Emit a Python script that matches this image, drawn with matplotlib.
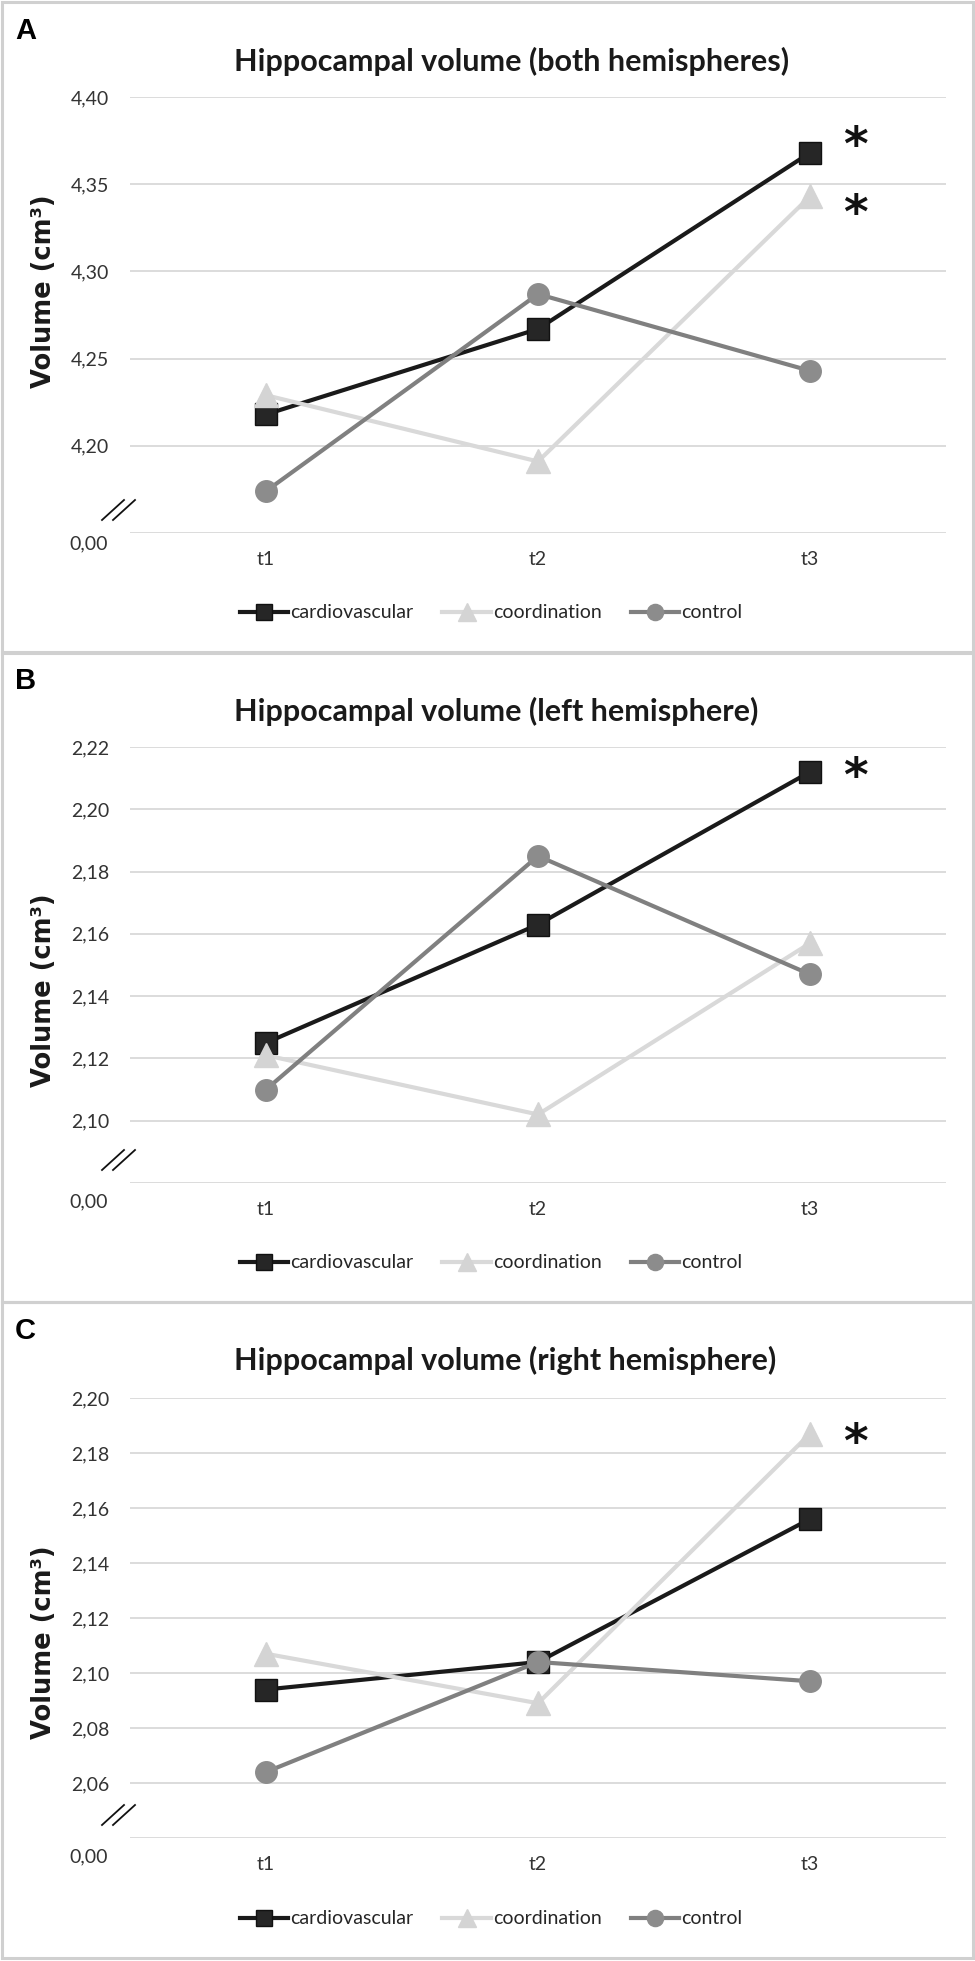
import matplotlib
matplotlib.use("Agg")
import matplotlib.pyplot as plt
from matplotlib.patches import Rectangle
from matplotlib.lines import Line2D

# time points
times = ["t1", "t2", "t3"]
groups = ["cardiovascular", "coordination", "control"]

# panel A: both hemispheres
both_cardio = [4.218, 4.267, 4.368]
both_coord = [4.229, 4.191, 4.343]
both_control = [4.174, 4.287, 4.243]

# panel B: left hemisphere
left_cardio = [2.125, 2.163, 2.212]
left_coord = [2.121, 2.102, 2.157]
left_control = [2.110, 2.185, 2.147]

# panel C: right hemisphere
right_cardio = [2.094, 2.104, 2.156]
right_coord = [2.107, 2.089, 2.187]
right_control = [2.064, 2.104, 2.097]

# y ticks (the lowest one is shown as "0,00" after the axis break)
both_ticks = [4.15, 4.20, 4.25, 4.30, 4.35, 4.40]
left_ticks = [2.08, 2.10, 2.12, 2.14, 2.16, 2.18, 2.20, 2.22]
right_ticks = [2.04, 2.06, 2.08, 2.10, 2.12, 2.14, 2.16, 2.18, 2.20]

# significance asterisks (y position at t3)
both_stars = [4.379, 4.340]
left_stars = [2.2143]
right_stars = [2.188]

titles = ["Hippocampal volume (both hemispheres)",
          "Hippocampal volume (left hemisphere)",
          "Hippocampal volume (right hemisphere)"]
letters = ["A", "B", "C"]

W, H = 975, 1961
fig = plt.figure(figsize=(W / 100, H / 100), dpi=100)

def fx(x):
    return x / W

def fy(y):
    return 1 - y / H

styles = [
    dict(color="#1a1a1a", marker="s", markersize=15.5, markerfacecolor="#262626",
         markeredgecolor="#111111", lw=3.0),
    dict(color="#d9d9d9", marker="^", markersize=17.5, markerfacecolor="#d4d4d4",
         markeredgecolor="#d4d4d4", lw=3.0),
    dict(color="#808080", marker="o", markersize=15.5, markerfacecolor="#8c8c8c",
         markeredgecolor="#8c8c8c", lw=3.0),
]

calibri = "Lato"

panels = [
    dict(series=[both_cardio, both_coord, both_control], ticks=both_ticks, stars=both_stars,
         box=(2, 653), ax_top=97, ax_bot=533, title_y=71, ylab_y=291, leg_y=613, zero_off=11),
    dict(series=[left_cardio, left_coord, left_control], ticks=left_ticks, stars=left_stars,
         box=(652, 1302), ax_top=747, ax_bot=1183, title_y=721, ylab_y=990, leg_y=1263, zero_off=19),
    dict(series=[right_cardio, right_coord, right_control], ticks=right_ticks, stars=right_stars,
         box=(1302, 1958), ax_top=1398, ax_bot=1838, title_y=1370, ylab_y=1642, leg_y=1919, zero_off=19),
]

ax_left, ax_right = 130, 946

for i, p in enumerate(panels):
    top, bot = p["box"]
    fig.add_artist(Rectangle((fx(2), fy(bot)), fx(971), (bot - top) / H, transform=fig.transFigure,
                             fill=False, edgecolor="#d0d0d0", lw=2.2))

    ax = fig.add_axes([fx(ax_left), fy(p["ax_bot"]), fx(ax_right - ax_left),
                       (p["ax_bot"] - p["ax_top"]) / H])
    x = list(range(len(times)))
    handles = []
    for vals, st, name in zip(p["series"], styles, groups):
        h, = ax.plot(x, vals, label=name, clip_on=False, zorder=3, **st)
        handles.append(h)

    ticks = p["ticks"]
    ax.set_ylim(ticks[0], ticks[-1])
    ax.set_xlim(-0.5, 2.5)
    ax.set_yticks(ticks)
    ax.set_yticklabels([""] + [f"{t:.2f}".replace(".", ",") for t in ticks[1:]])
    ax.set_xticks(x)
    ax.set_xticklabels(times)
    ax.grid(axis="y", color="#d9d9d9", lw=1.3)
    ax.set_axisbelow(True)
    for s in ax.spines.values():
        s.set_visible(False)
    ax.tick_params(length=0, labelsize=14, labelcolor="#333333")
    ax.tick_params(axis="y", pad=15)
    ax.tick_params(axis="x", pad=13)
    for lab in ax.get_xticklabels() + ax.get_yticklabels():
        lab.set_fontfamily(calibri)

    # "0,00" label below the axis break
    ax.annotate("0,00", xy=(0, ticks[0]), xycoords=("axes fraction", "data"),
                xytext=(-16, -p["zero_off"] * 0.72), textcoords="offset points",
                ha="right", va="center", fontsize=14, color="#333333", family=calibri)

    # axis break marks
    b = p["ax_bot"]
    for dx in (0, 11):
        fig.add_artist(Line2D([fx(102 + dx), fx(124 + dx)], [fy(b - 13), fy(b - 33)],
                              transform=fig.transFigure, color="#111111", lw=1.3))

    # asterisks
    for sy in p["stars"]:
        ax.annotate("*", xy=(2, sy), xycoords="data", xytext=(33, -10), textcoords="offset points",
                    ha="center", va="center", fontsize=34, fontweight="bold",
                    family="DejaVu Sans", color="#111111")

    fig.text(fx(234), fy(p["title_y"]), titles[i], ha="left", va="baseline",
             fontsize=22, fontweight="bold", family=calibri, color="#1a1a1a")
    fig.text(fx(15), fy(top + 37), letters[i], ha="left", va="baseline",
             fontsize=21, fontweight="bold", family="Liberation Sans", color="black")
    fig.text(fx(44), fy(p["ylab_y"]), "Volume (cm³)", rotation=90, ha="center", va="center",
             fontsize=18.5, fontweight="bold", family="DejaVu Sans", color="#1a1a1a")

    fig.legend(handles=handles, loc="center", bbox_to_anchor=(fx(491), fy(p["leg_y"])),
               ncol=3, frameon=False, handlelength=2.5, handletextpad=0.1, columnspacing=1.5,
               prop={"family": calibri, "size": 14}, labelcolor="#262626", markerscale=0.75)

fig.savefig("out.png", dpi=100, facecolor="white")
